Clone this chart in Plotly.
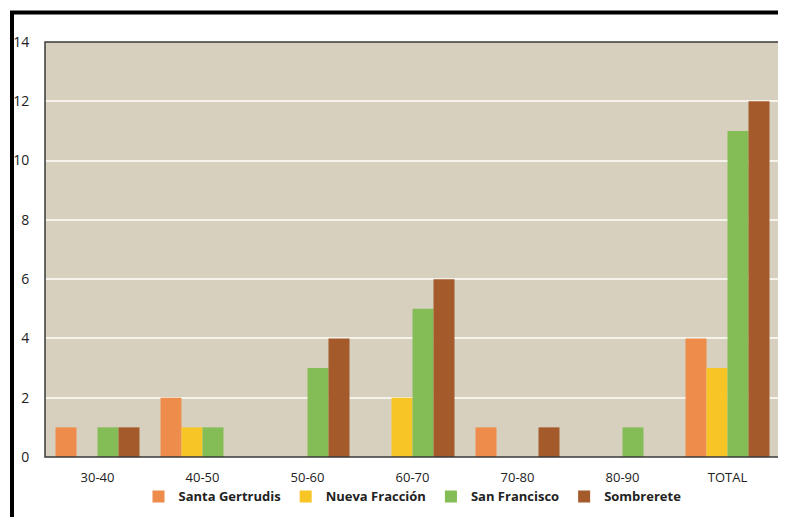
import plotly.graph_objects as go

categories = ["30-40", "40-50", "50-60", "60-70", "70-80", "80-90", "TOTAL"]
santa_gertrudis = [1, 2, 0, 0, 1, 0, 4]
nueva_fraccion = [0, 1, 0, 2, 0, 0, 3]
san_francisco = [1, 1, 3, 5, 0, 1, 11]
sombrerete = [1, 0, 4, 6, 1, 0, 12]
y_ticks = [0, 2, 4, 6, 8, 10, 12, 14]

series = [
    ("Santa Gertrudis", santa_gertrudis, "#EE8D4B"),
    ("Nueva Fracción", nueva_fraccion, "#F8C526"),
    ("San Francisco", san_francisco, "#84BD55"),
    ("Sombrerete", sombrerete, "#A45A2B"),
]

fig = go.Figure()
for name, vals, col in series:
    fig.add_trace(go.Bar(
        x=categories, y=vals, name=name,
        marker=dict(color=col, line=dict(width=0)),
    ))

# page body adds an 8px offset; work in reference pixel coordinates
OFF = 8
W, H = 786 - OFF, 517 - OFF
ml, mr, mt, mb = 45 - OFF, 6, 42 - OFF, 54
pw, ph = W - ml - mr, H - mt - mb

def px(x):
    return (x - OFF - ml) / pw

def py(y):
    return (H - mb - (y - OFF)) / ph

fig.update_layout(
    width=W, height=H,
    margin=dict(l=ml, r=mr, t=mt, b=mb),
    paper_bgcolor="white",
    plot_bgcolor="#D8D0BF",
    barmode="group", bargap=0.2, bargroupgap=0,
    font=dict(family="Open Sans, sans-serif", size=12, color="#222"),
    showlegend=True,
    legend=dict(orientation="h", x=0.5, xanchor="center", y=py(503), yanchor="middle",
                font=dict(family="Open Sans, sans-serif", size=13, color="#222", weight="bold"),
                itemwidth=30, tracegroupgap=0, bgcolor="rgba(0,0,0,0)"),
    xaxis=dict(showgrid=False, tickfont=dict(size=13), ticks="outside", ticklen=8,
               tickcolor="rgba(0,0,0,0)", showline=False),
    yaxis=dict(range=[0, 14], tickvals=y_ticks, showgrid=True, gridcolor="#F6F3EC", gridwidth=2,
               zeroline=False, ticks="outside", ticklen=12, tickcolor="rgba(0,0,0,0)",
               tickfont=dict(size=14)),
    shapes=[
        dict(type="rect", xref="paper", yref="paper", x0=0, x1=1, y0=0, y1=1,
             line=dict(color="#3a3a3a", width=1.5), layer="above"),
        dict(type="path", xref="paper", yref="paper",
             path=f"M {px(12)} {py(530)} L {px(12)} {py(12)} L {px(800)} {py(12)}",
             line=dict(color="black", width=4)),
    ],
)

fig.write_html("out.html", config={"displayModeBar": False})
